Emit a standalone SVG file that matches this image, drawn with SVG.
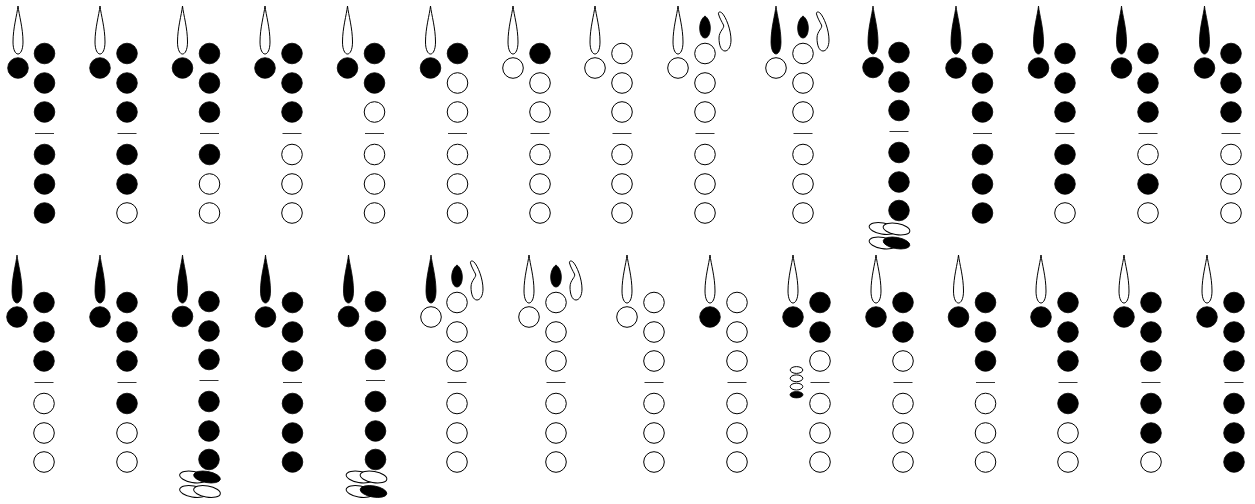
<svg xmlns="http://www.w3.org/2000/svg" xmlns:xlink="http://www.w3.org/1999/xlink" width="1255" height="504" viewBox="0 0 1255 504">
<style>
.f{fill:#000;stroke:#000;stroke-width:.8}
.o{fill:#fff;stroke:#000;stroke-width:1}
.b{stroke:#333;stroke-width:1;fill:none}
</style>
<defs>
<path id="tear" d="M0,6C-1,15 -5,28 -5,42C-5,50 -2.5,54 0,54C2.5,54 5,50 5,42C5,28 1,15 0,6Z"/>
<path id="drop" d="M0,16C2.5,17.5 5.3,22 5.3,28C5.3,34 3,38 0,38C-3,38 -5.3,34 -5.3,28C-5.3,22 -2.5,17.5 0,16Z"/>
<path id="hook" d="M13.5,14C13,11.5 15.5,11.5 17,13C21,17 26,30 26,40C26,47 23,51 20,51C16,51 14,45 14,38C14,31 20,28 18.5,25C17,22 14.5,18 13.5,14Z"/>
<circle id="k" r="10.3"/>
<path id="bar" d="M-9.5,133.5H9.5"/>
<path id="barc" d="M-9.5,131.5H9.5"/>
<ellipse id="pad" rx="13.5" ry="5.6" transform="rotate(10)"/>
</defs>
<g id="row-1">
<g id="c1" transform="translate(44.5,0)"><use href="#tear" x="-26.5" class="o"/><use href="#k" x="-26.5" y="68" class="f"/><use href="#k" y="53.5" class="f"/><use href="#k" y="83" class="f"/><use href="#k" y="112" class="f"/><use href="#bar" class="b"/><use href="#k" y="154.5" class="f"/><use href="#k" y="184" class="f"/><use href="#k" y="213" class="f"/></g>
<g id="c2" transform="translate(127,0)"><use href="#tear" x="-27" class="o"/><use href="#k" x="-27" y="68" class="f"/><use href="#k" y="53.5" class="f"/><use href="#k" y="83" class="f"/><use href="#k" y="112" class="f"/><use href="#bar" class="b"/><use href="#k" y="154.5" class="f"/><use href="#k" y="184" class="f"/><use href="#k" y="213" class="o"/></g>
<g id="c3" transform="translate(209.5,0)"><use href="#tear" x="-27" class="o"/><use href="#k" x="-27" y="68" class="f"/><use href="#k" y="53.5" class="f"/><use href="#k" y="83" class="f"/><use href="#k" y="112" class="f"/><use href="#bar" class="b"/><use href="#k" y="154.5" class="f"/><use href="#k" y="184" class="o"/><use href="#k" y="213" class="o"/></g>
<g id="c4" transform="translate(292,0)"><use href="#tear" x="-27" class="o"/><use href="#k" x="-27" y="68" class="f"/><use href="#k" y="53.5" class="f"/><use href="#k" y="83" class="f"/><use href="#k" y="112" class="f"/><use href="#bar" class="b"/><use href="#k" y="154.5" class="o"/><use href="#k" y="184" class="o"/><use href="#k" y="213" class="o"/></g>
<g id="c5" transform="translate(374.5,0)"><use href="#tear" x="-27" class="o"/><use href="#k" x="-27" y="68" class="f"/><use href="#k" y="53.5" class="f"/><use href="#k" y="83" class="f"/><use href="#k" y="112" class="o"/><use href="#bar" class="b"/><use href="#k" y="154.5" class="o"/><use href="#k" y="184" class="o"/><use href="#k" y="213" class="o"/></g>
<g id="c6" transform="translate(457.5,0)"><use href="#tear" x="-27" class="o"/><use href="#k" x="-27" y="68" class="f"/><use href="#k" y="53.5" class="f"/><use href="#k" y="83" class="o"/><use href="#k" y="112" class="o"/><use href="#bar" class="b"/><use href="#k" y="154.5" class="o"/><use href="#k" y="184" class="o"/><use href="#k" y="213" class="o"/></g>
<g id="c7" transform="translate(540,0)"><use href="#tear" x="-27" class="o"/><use href="#k" x="-27" y="68" class="o"/><use href="#k" y="53.5" class="f"/><use href="#k" y="83" class="o"/><use href="#k" y="112" class="o"/><use href="#bar" class="b"/><use href="#k" y="154.5" class="o"/><use href="#k" y="184" class="o"/><use href="#k" y="213" class="o"/></g>
<g id="c8" transform="translate(622,0)"><use href="#tear" x="-27" class="o"/><use href="#k" x="-27" y="68" class="o"/><use href="#k" y="53.5" class="o"/><use href="#k" y="83" class="o"/><use href="#k" y="112" class="o"/><use href="#bar" class="b"/><use href="#k" y="154.5" class="o"/><use href="#k" y="184" class="o"/><use href="#k" y="213" class="o"/></g>
<g id="c9" transform="translate(705,0)"><use href="#tear" x="-27" class="o"/><use href="#drop" class="f"/><use href="#hook" class="o"/><use href="#k" x="-27" y="68" class="o"/><use href="#k" y="53.5" class="o"/><use href="#k" y="83" class="o"/><use href="#k" y="112" class="o"/><use href="#bar" class="b"/><use href="#k" y="154.5" class="o"/><use href="#k" y="184" class="o"/><use href="#k" y="213" class="o"/></g>
<g id="c10" transform="translate(803,0)"><use href="#tear" x="-27" class="f"/><use href="#drop" class="f"/><use href="#hook" class="o"/><use href="#k" x="-27" y="68" class="o"/><use href="#k" y="53.5" class="o"/><use href="#k" y="83" class="o"/><use href="#k" y="112" class="o"/><use href="#bar" class="b"/><use href="#k" y="154.5" class="o"/><use href="#k" y="184" class="o"/><use href="#k" y="213" class="o"/></g>
<g id="c11" transform="translate(899,0)"><use href="#tear" x="-26" class="f"/><use href="#k" x="-26" y="67.5" class="f"/><use href="#k" y="52.5" class="f"/><use href="#k" y="82" class="f"/><use href="#k" y="110.5" class="f"/><use href="#barc" class="b"/><use href="#k" y="152.5" class="f"/><use href="#k" y="182" class="f"/><use href="#k" y="210.5" class="f"/><use href="#pad" x="-16.5" y="228.5" class="o"/><use href="#pad" x="-2.5" y="229" class="o"/><use href="#pad" x="-16.5" y="243" class="o"/><use href="#pad" x="-2.5" y="243" class="f"/></g>
<g id="c12" transform="translate(982.5,0)"><use href="#tear" x="-26.5" class="f"/><use href="#k" x="-26.5" y="68" class="f"/><use href="#k" y="53.5" class="f"/><use href="#k" y="83" class="f"/><use href="#k" y="112" class="f"/><use href="#bar" class="b"/><use href="#k" y="154.5" class="f"/><use href="#k" y="184" class="f"/><use href="#k" y="213" class="f"/></g>
<g id="c13" transform="translate(1065,0)"><use href="#tear" x="-26.5" class="f"/><use href="#k" x="-26.5" y="68" class="f"/><use href="#k" y="53.5" class="f"/><use href="#k" y="83" class="f"/><use href="#k" y="112" class="f"/><use href="#bar" class="b"/><use href="#k" y="154.5" class="f"/><use href="#k" y="184" class="f"/><use href="#k" y="213" class="o"/></g>
<g id="c14" transform="translate(1148,0)"><use href="#tear" x="-26.5" class="f"/><use href="#k" x="-26.5" y="68" class="f"/><use href="#k" y="53.5" class="f"/><use href="#k" y="83" class="f"/><use href="#k" y="112" class="f"/><use href="#bar" class="b"/><use href="#k" y="154.5" class="o"/><use href="#k" y="184" class="f"/><use href="#k" y="213" class="o"/></g>
<g id="c15" transform="translate(1231,0)"><use href="#tear" x="-26.5" class="f"/><use href="#k" x="-26.5" y="68" class="f"/><use href="#k" y="53.5" class="f"/><use href="#k" y="83" class="f"/><use href="#k" y="112" class="f"/><use href="#bar" class="b"/><use href="#k" y="154.5" class="o"/><use href="#k" y="184" class="o"/><use href="#k" y="213" class="o"/></g>
</g>
<g id="row-2">
<g id="c16" transform="translate(44,249)"><use href="#tear" x="-27" class="f"/><use href="#k" x="-27" y="68" class="f"/><use href="#k" y="53.5" class="f"/><use href="#k" y="83" class="f"/><use href="#k" y="112" class="f"/><use href="#bar" class="b"/><use href="#k" y="154.5" class="o"/><use href="#k" y="184" class="o"/><use href="#k" y="213" class="o"/></g>
<g id="c17" transform="translate(127,249)"><use href="#tear" x="-27" class="f"/><use href="#k" x="-27" y="68" class="f"/><use href="#k" y="53.5" class="f"/><use href="#k" y="83" class="f"/><use href="#k" y="112" class="f"/><use href="#bar" class="b"/><use href="#k" y="154.5" class="f"/><use href="#k" y="184" class="o"/><use href="#k" y="213" class="o"/></g>
<g id="c18" transform="translate(209,249)"><use href="#tear" x="-26.5" class="f"/><use href="#k" x="-26.5" y="67.5" class="f"/><use href="#k" y="52.5" class="f"/><use href="#k" y="82" class="f"/><use href="#k" y="110.5" class="f"/><use href="#barc" class="b"/><use href="#k" y="152.5" class="f"/><use href="#k" y="182" class="f"/><use href="#k" y="210.5" class="f"/><use href="#pad" x="-16" y="228" class="o"/><use href="#pad" x="-2" y="228" class="f"/><use href="#pad" x="-16" y="242.5" class="o"/><use href="#pad" x="-2" y="242.5" class="o"/></g>
<g id="c19" transform="translate(292.5,249)"><use href="#tear" x="-27" class="f"/><use href="#k" x="-27" y="68" class="f"/><use href="#k" y="53.5" class="f"/><use href="#k" y="83" class="f"/><use href="#k" y="112" class="f"/><use href="#bar" class="b"/><use href="#k" y="154.5" class="f"/><use href="#k" y="184" class="f"/><use href="#k" y="213" class="f"/></g>
<g id="c20" transform="translate(375.5,249)"><use href="#tear" x="-27" class="f"/><use href="#k" x="-27" y="67.5" class="f"/><use href="#k" y="52.5" class="f"/><use href="#k" y="82" class="f"/><use href="#k" y="110.5" class="f"/><use href="#barc" class="b"/><use href="#k" y="152.5" class="f"/><use href="#k" y="182" class="f"/><use href="#k" y="210.5" class="f"/><use href="#pad" x="-16" y="228" class="o"/><use href="#pad" x="-2" y="228" class="o"/><use href="#pad" x="-16" y="242.5" class="o"/><use href="#pad" x="-2" y="242.5" class="f"/></g>
<g id="c21" transform="translate(457,249)"><use href="#tear" x="-26" class="f"/><use href="#drop" class="f"/><use href="#hook" class="o"/><use href="#k" x="-26" y="68" class="o"/><use href="#k" y="53.5" class="o"/><use href="#k" y="83" class="o"/><use href="#k" y="112" class="o"/><use href="#bar" class="b"/><use href="#k" y="154.5" class="o"/><use href="#k" y="184" class="o"/><use href="#k" y="213" class="o"/></g>
<g id="c22" transform="translate(556,249)"><use href="#tear" x="-27" class="o"/><use href="#drop" class="f"/><use href="#hook" class="o"/><use href="#k" x="-27" y="68" class="o"/><use href="#k" y="53.5" class="o"/><use href="#k" y="83" class="o"/><use href="#k" y="112" class="o"/><use href="#bar" class="b"/><use href="#k" y="154.5" class="o"/><use href="#k" y="184" class="o"/><use href="#k" y="213" class="o"/></g>
<g id="c23" transform="translate(654,249)"><use href="#tear" x="-27" class="o"/><use href="#k" x="-27" y="68" class="o"/><use href="#k" y="53.5" class="o"/><use href="#k" y="83" class="o"/><use href="#k" y="112" class="o"/><use href="#bar" class="b"/><use href="#k" y="154.5" class="o"/><use href="#k" y="184" class="o"/><use href="#k" y="213" class="o"/></g>
<g id="c24" transform="translate(737,249)"><use href="#tear" x="-27" class="o"/><use href="#k" x="-27" y="68" class="f"/><use href="#k" y="53.5" class="o"/><use href="#k" y="83" class="o"/><use href="#k" y="112" class="o"/><use href="#bar" class="b"/><use href="#k" y="154.5" class="o"/><use href="#k" y="184" class="o"/><use href="#k" y="213" class="o"/></g>
<g id="c25" transform="translate(820,249)"><use href="#tear" x="-27" class="o"/><use href="#k" x="-27" y="68" class="f"/><use href="#k" y="53.5" class="f"/><use href="#k" y="83" class="f"/><use href="#k" y="112" class="o"/><use href="#bar" class="b"/><use href="#k" y="154.5" class="o"/><use href="#k" y="184" class="o"/><use href="#k" y="213" class="o"/><ellipse class="o" cx="-23.5" cy="121" rx="6.3" ry="3.4"/><ellipse class="o" cx="-23.5" cy="129.3" rx="6.3" ry="3.4"/><ellipse class="o" cx="-23.5" cy="137.6" rx="6.3" ry="3.4"/><ellipse class="f" cx="-23.5" cy="145.7" rx="6.5" ry="3.2"/></g>
<g id="c26" transform="translate(903,249)"><use href="#tear" x="-27" class="o"/><use href="#k" x="-27" y="68" class="f"/><use href="#k" y="53.5" class="f"/><use href="#k" y="83" class="f"/><use href="#k" y="112" class="o"/><use href="#bar" class="b"/><use href="#k" y="154.5" class="o"/><use href="#k" y="184" class="o"/><use href="#k" y="213" class="o"/></g>
<g id="c27" transform="translate(985.5,249)"><use href="#tear" x="-27" class="o"/><use href="#k" x="-27" y="68" class="f"/><use href="#k" y="53.5" class="f"/><use href="#k" y="83" class="f"/><use href="#k" y="112" class="f"/><use href="#bar" class="b"/><use href="#k" y="154.5" class="o"/><use href="#k" y="184" class="o"/><use href="#k" y="213" class="o"/></g>
<g id="c28" transform="translate(1068,249)"><use href="#tear" x="-27" class="o"/><use href="#k" x="-27" y="68" class="f"/><use href="#k" y="53.5" class="f"/><use href="#k" y="83" class="f"/><use href="#k" y="112" class="f"/><use href="#bar" class="b"/><use href="#k" y="154.5" class="f"/><use href="#k" y="184" class="o"/><use href="#k" y="213" class="o"/></g>
<g id="c29" transform="translate(1151,249)"><use href="#tear" x="-27" class="o"/><use href="#k" x="-27" y="68" class="f"/><use href="#k" y="53.5" class="f"/><use href="#k" y="83" class="f"/><use href="#k" y="112" class="f"/><use href="#bar" class="b"/><use href="#k" y="154.5" class="f"/><use href="#k" y="184" class="f"/><use href="#k" y="213" class="o"/></g>
<g id="c30" transform="translate(1234,249)"><use href="#tear" x="-27" class="o"/><use href="#k" x="-27" y="68" class="f"/><use href="#k" y="53.5" class="f"/><use href="#k" y="83" class="f"/><use href="#k" y="112" class="f"/><use href="#bar" class="b"/><use href="#k" y="154.5" class="f"/><use href="#k" y="184" class="f"/><use href="#k" y="213" class="f"/></g>
</g>
</svg>
